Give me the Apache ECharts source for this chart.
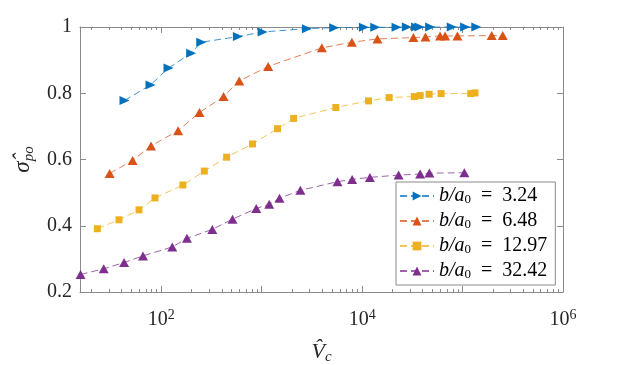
<!DOCTYPE html>
<html>
<head>
<meta charset="utf-8">
<script src="https://cdn.jsdelivr.net/npm/echarts@6/dist/echarts.min.js"></script>
<style>
    html, body { margin: 0; padding: 0; background: #fff; }
    #contain { width: 623px; height: 365px; }
</style>
</head>
<body>
<div id="contain"></div>
<script>
/*数据*/
var ratios = ['3.24', '6.48', '12.97', '32.42'];

var vcBlue = [43, 78, 118, 198, 250, 579, 1020, 2820, 5270, 10400, 13500, 22000, 27900, 34400, 37200, 47500, 78000, 106000, 137000];
var sigBlue = [0.778, 0.825, 0.876, 0.921, 0.954, 0.971, 0.985, 0.995, 0.998, 0.999, 0.999, 0.999, 1.0, 1.0, 1.0, 1.0, 1.0, 1.0, 1.0];

var vcOrange = [30.6, 51.8, 79, 147, 240, 417, 597, 1160, 3970, 7900, 14200, 32400, 42700, 59700, 67000, 88800, 195000, 251000];
var sigOrange = [0.558, 0.597, 0.641, 0.687, 0.742, 0.790, 0.837, 0.881, 0.937, 0.954, 0.964, 0.968, 0.970, 0.973, 0.973, 0.973, 0.974, 0.974];

var vcYellow = [23.1, 37.9, 60, 86.5, 164, 268, 447, 810, 1436, 2080, 5470, 11560, 18580, 33100, 37800, 46400, 61100, 120700, 133000];
var sigYellow = [0.391, 0.418, 0.448, 0.484, 0.523, 0.565, 0.607, 0.647, 0.693, 0.724, 0.757, 0.777, 0.787, 0.790, 0.793, 0.797, 0.799, 0.799, 0.801];

var vcPurple = [15.7, 26.7, 42.6, 65.7, 128.6, 180, 322, 512, 882, 1188, 1504, 2427, 5680, 7950, 11940, 23070, 37800, 46700, 104200];
var sigPurple = [0.253, 0.270, 0.289, 0.309, 0.336, 0.362, 0.389, 0.420, 0.452, 0.465, 0.483, 0.507, 0.533, 0.540, 0.546, 0.553, 0.556, 0.559, 0.560];

var xMin = 15.5, xMax = 1e6;
var majorTicks = [100, 1e3, 1e4, 1e5, 1e6];
var labelTicks = [100, 1e4, 1e6];
var minorTicks = [];
for (var e = 1; e < 6; e++) {
    for (var k = 2; k <= 9; k++) {
        var v = k * Math.pow(10, e);
        if (v >= xMin && v <= xMax) minorTicks.push(v);
    }
}

var axisGrey = '#8a8a8a';
var textDark = '#262626';
var serif = '"Liberation Serif", "DejaVu Serif", serif';

/**
 * 把两个数组合成点
 */
function pairs(xs, ys) {
    var out = [];
    for (var i = 0; i < xs.length; i++) {
        out.push([xs[i], ys[i]]);
    }
    return out;
}

function xAxisDef(pos, ticks, len, main) {
    return {
        type: 'log',
        logBase: 10,
        min: xMin,
        max: xMax,
        position: pos,
        axisLine: { show: main, lineStyle: { color: axisGrey, width: 1 } },
        axisTick: { show: true, inside: true, length: len, customValues: ticks, lineStyle: { color: axisGrey } },
        axisLabel: { show: false },
        splitLine: { show: false },
        minorTick: { show: false }
    };
}

function lineSeries(name, xs, ys, color, symbol, size, rotate) {
    return {
        name: name,
        type: 'line',
        xAxisIndex: 0,
        yAxisIndex: 0,
        data: pairs(xs, ys),
        symbol: symbol,
        symbolSize: size,
        symbolRotate: rotate,
        showAllSymbol: true,
        clip: false,
        itemStyle: { color: color },
        lineStyle: { color: color, width: 1, type: [7, 4], opacity: 0.75 },
        emphasis: { disabled: true },
        animation: false
    };
}

var bottomMain = xAxisDef('bottom', majorTicks, 6, true);
bottomMain.axisLabel = {
    show: true,
    customValues: labelTicks,
    margin: 16,
    color: textDark,
    formatter: function (v) {
        return '{b|10}{s|' + Math.round(Math.log10(v)) + '}';
    },
    rich: {
        b: { fontFamily: serif, fontSize: 20, color: textDark, lineHeight: 24 },
        s: { fontFamily: serif, fontSize: 14, color: textDark, verticalAlign: 'top', lineHeight: 13 }
    }
};
bottomMain.name = '{i|V̂}{sub|c}';
bottomMain.nameLocation = 'middle';
bottomMain.nameGap = 47;
bottomMain.nameTextStyle = {
    rich: {
        i: { fontFamily: serif, fontStyle: 'italic', fontSize: 22, color: textDark, lineHeight: 26 },
        sub: { fontFamily: serif, fontStyle: 'italic', fontSize: 15, color: textDark, verticalAlign: 'bottom', lineHeight: 14 }
    }
};

var myChart = echarts.init(document.getElementById('contain'), null, { renderer: 'canvas' });
myChart.setOption({
    animation: false,
    backgroundColor: '#fff',
    grid: { left: 80, right: 60, top: 27, bottom: 73, containLabel: false, outerBoundsMode: 'none' },
    xAxis: [
        bottomMain,
        xAxisDef('top', majorTicks, 6, true),
        xAxisDef('bottom', minorTicks, 3, false),
        xAxisDef('top', minorTicks, 3, false)
    ],
    yAxis: [
        {
            type: 'value',
            min: 0.2,
            max: 1,
            interval: 0.2,
            position: 'left',
            axisLine: { show: true, lineStyle: { color: axisGrey } },
            axisTick: { show: true, inside: true, length: 6, lineStyle: { color: axisGrey } },
            axisLabel: { color: textDark, fontFamily: serif, fontSize: 20, margin: 8 },
            splitLine: { show: false },
            name: '{i|σ̂}{sub|po}',
            nameLocation: 'middle',
            nameRotate: 90,
            nameGap: 40,
            nameTextStyle: {
                rich: {
                    i: { fontFamily: serif, fontStyle: 'italic', fontSize: 23, color: textDark, lineHeight: 26 },
                    sub: { fontFamily: serif, fontStyle: 'italic', fontSize: 15, color: textDark, verticalAlign: 'bottom', lineHeight: 14 }
                }
            }
        },
        {
            type: 'value',
            min: 0.2,
            max: 1,
            interval: 0.2,
            position: 'right',
            axisLine: { show: true, lineStyle: { color: axisGrey } },
            axisTick: { show: true, inside: true, length: 6, lineStyle: { color: axisGrey } },
            axisLabel: { show: false },
            splitLine: { show: false }
        }
    ],
    legend: {
        orient: 'vertical',
        left: 396,
        top: 182,
        padding: [4, 8, 4, 3],
        itemGap: 5,
        itemWidth: 34,
        itemHeight: 11,
        borderColor: axisGrey,
        borderWidth: 1,
        backgroundColor: '#fff',
        data: ratios,
        formatter: function (n) {
            return '{i|b/a}{sub|0}{n|  =  ' + n + '}';
        },
        textStyle: {
            lineHeight: 20,
            rich: {
                i: { fontFamily: serif, fontStyle: 'italic', fontSize: 20, color: '#000', lineHeight: 20 },
                sub: { fontFamily: serif, fontSize: 13, color: '#000', verticalAlign: 'bottom', lineHeight: 13 },
                n: { fontFamily: serif, fontSize: 20, color: '#000', lineHeight: 20 }
            }
        }
    },
    series: [
        lineSeries(ratios[0], vcBlue, sigBlue, '#0072BD', 'triangle', [9, 10], -90),
        lineSeries(ratios[1], vcOrange, sigOrange, '#D95319', 'triangle', [10, 9], 0),
        lineSeries(ratios[2], vcYellow, sigYellow, '#EDB120', 'rect', 7, 0),
        lineSeries(ratios[3], vcPurple, sigPurple, '#7E2F8E', 'triangle', [10, 9], 0)
    ]
});
</script>
</body>
</html>
